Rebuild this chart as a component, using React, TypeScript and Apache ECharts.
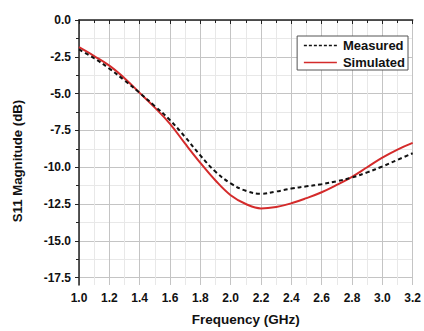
import React, { useEffect, useRef } from "react";
import * as echarts from "echarts";

const freq = [1.0, 1.1, 1.2, 1.3, 1.4, 1.5, 1.6, 1.7, 1.8, 1.9, 2.0, 2.1, 2.2, 2.3, 2.4, 2.5, 2.6, 2.7, 2.8, 2.9, 3.0, 3.1, 3.2];
const measured = [-2.0, -2.6, -3.3, -4.1, -4.95, -5.85, -6.8, -7.95, -9.2, -10.3, -11.1, -11.6, -11.8, -11.65, -11.45, -11.3, -11.15, -10.95, -10.7, -10.35, -9.95, -9.5, -9.05];
const simulated = [-1.85, -2.45, -3.1, -3.95, -4.95, -5.95, -7.05, -8.4, -9.7, -10.9, -11.9, -12.5, -12.8, -12.7, -12.45, -12.1, -11.7, -11.2, -10.65, -10.0, -9.35, -8.8, -8.35];
const yMajorTicks = [-17.5, -15, -12.5, -10, -7.5, -5, -2.5, 0];
const yMinorTicks = [-16.25, -13.75, -11.25, -8.75, -6.25, -3.75, -1.25];
const seriesNames = ["Measured", "Simulated"];

const FONT = "'Liberation Sans', Arial, sans-serif";

export default function App() {
  const ref = useRef<HTMLDivElement>(null);
  useEffect(() => {
    document.body.style.margin = "0";
    const chart = echarts.init(ref.current!, null, { renderer: "svg" });
    const pair = (ys: number[]) => freq.map((f, i) => [f, ys[i]]);
    chart.setOption({
      animation: false,
      backgroundColor: "#ffffff",
      textStyle: { fontFamily: FONT },
      grid: { left: 79, right: 8, top: 20, bottom: 42 },
      legend: {
        orient: "vertical",
        right: 16,
        top: 36,
        align: "left",
        padding: [3, 3, 1, 6],
        itemGap: 4,
        itemWidth: 33,
        itemHeight: 13,
        borderColor: "#555555",
        borderWidth: 1,
        backgroundColor: "#ffffff",
        itemStyle: { opacity: 0 },
        textStyle: { fontFamily: FONT, fontSize: 13, color: "#111111", fontWeight: "bold", padding: [0, 0, 0, 1] },
        data: [
          { name: seriesNames[0], lineStyle: { width: 1.5, type: [3, 2] } },
          { name: seriesNames[1], lineStyle: { width: 1.5 } },
        ],
      },
      xAxis: {
        type: "value",
        min: 1.0,
        max: 3.2,
        interval: 0.2,
        name: "Frequency (GHz)",
        nameLocation: "middle",
        nameGap: 27,
        nameTextStyle: { fontFamily: FONT, fontSize: 13.5, fontWeight: "bold", color: "#111111" },
        axisLine: { show: true, lineStyle: { color: "#222222", width: 1.5 } },
        axisTick: { show: true, inside: false, length: 4, lineStyle: { color: "#222222" } },
        minorTick: { show: true, splitNumber: 2, length: 3, lineStyle: { color: "#222222" } },
        axisLabel: {
          margin: 7,
          fontFamily: FONT,
          fontSize: 12,
          fontWeight: "bold",
          color: "#111111",
          formatter: (v: number) => v.toFixed(1),
        },
        splitLine: { show: true, lineStyle: { color: "#c4c4c4", width: 1 } },
        minorSplitLine: { show: true, lineStyle: { color: "#e8e8e8", width: 1 } },
      },
      yAxis: [
        {
          type: "value",
          min: -18,
          max: 0,
          name: "S11 Magnitude (dB)",
          nameLocation: "middle",
          nameGap: 55,
          nameTextStyle: { fontFamily: FONT, fontSize: 13.2, fontWeight: "bold", color: "#111111", padding: [0, 17, 0, 0] },
          axisLine: { show: true, onZero: false, lineStyle: { color: "#222222", width: 1.5 } },
          axisTick: { show: true, inside: false, length: 4, customValues: yMajorTicks, lineStyle: { color: "#222222" } },
          axisLabel: {
            margin: 8,
            fontFamily: FONT,
            fontSize: 12,
            fontWeight: "bold",
            color: "#111111",
            customValues: yMajorTicks,
            formatter: (v: number) => v.toFixed(1),
          },
          splitLine: { show: true, lineStyle: { color: "#c4c4c4", width: 1 } },
        },
        {
          type: "value",
          min: -18,
          max: 0,
          position: "left",
          axisLine: { show: false },
          axisTick: { show: true, inside: false, length: 3, customValues: yMinorTicks, lineStyle: { color: "#222222" } },
          axisLabel: { show: false, customValues: yMinorTicks },
          splitLine: { show: true, lineStyle: { color: "#e8e8e8", width: 1 } },
        },
      ],
      series: [
        {
          name: seriesNames[0],
          type: "line",
          yAxisIndex: 0,
          data: pair(measured),
          smooth: 0.4,
          symbol: "none",
          z: 3,
          lineStyle: { color: "#111111", width: 2, type: [4, 3] },
          itemStyle: { color: "#111111" },
        },
        {
          name: seriesNames[1],
          type: "line",
          yAxisIndex: 0,
          data: pair(simulated),
          smooth: 0.4,
          symbol: "none",
          z: 2,
          lineStyle: { color: "#d42b2b", width: 2 },
          itemStyle: { color: "#d42b2b" },
        },
      ],
    });
    return () => chart.dispose();
  }, []);
  return <div ref={ref} style={{ position: "absolute", left: 0, top: 0, width: 424, height: 331 }} />;
}
